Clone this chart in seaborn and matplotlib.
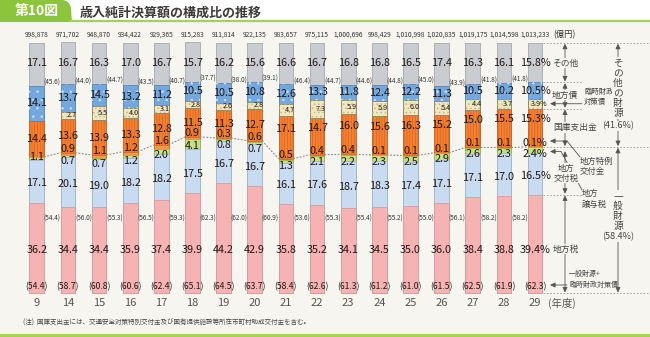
import numpy as np
import pandas as pd
import matplotlib
matplotlib.use("Agg")
import matplotlib.pyplot as plt
import seaborn as sns
from matplotlib.patches import Rectangle, Polygon

# ---------------- data ----------------
years = ['9', '14', '15', '16', '17', '18', '19', '20', '21', '22', '23', '24', '25', '26', '27', '28', '29']
totals = ['998,878', '971,702', '948,870', '934,422', '929,365', '915,283', '911,814', '922,135', '983,657',
          '975,115', '1,000,696', '998,429', '1,010,998', '1,020,835', '1,019,175', '1,014,598', '1,013,233']
local_tax = [36.2, 34.4, 34.4, 35.9, 37.4, 39.9, 44.2, 42.9, 35.8, 35.2, 34.1, 34.5, 35.0, 36.0, 38.4, 38.8, 39.4]
alloc_tax = [17.1, 20.1, 19.0, 18.2, 18.2, 17.5, 16.7, 16.7, 16.1, 17.6, 18.7, 18.3, 17.4, 17.1, 17.1, 17.0, 16.5]
transfer_tax = [1.1, 0.7, 0.7, 1.2, 2.0, 4.1, 0.8, 0.7, 1.3, 2.1, 2.2, 2.3, 2.5, 2.9, 2.6, 2.3, 2.4]
special_grant = [0.0, 0.9, 1.1, 1.2, 1.6, 0.9, 0.3, 0.6, 0.5, 0.4, 0.4, 0.1, 0.1, 0.1, 0.1, 0.1, 0.1]
treasury = [14.4, 13.6, 13.9, 13.3, 12.8, 11.5, 11.3, 12.7, 17.1, 14.7, 16.0, 15.6, 16.3, 15.2, 15.0, 15.5, 15.3]
local_bonds = [14.1, 13.7, 14.5, 13.2, 11.2, 10.5, 10.5, 10.8, 12.6, 13.3, 11.8, 12.4, 12.2, 11.3, 10.5, 10.2, 10.5]
special_bonds = [0.0, 2.7, 5.5, 4.0, 3.1, 2.8, 2.6, 2.8, 4.7, 7.3, 5.9, 5.9, 6.0, 5.4, 4.4, 3.7, 3.9]
others = [17.1, 16.7, 16.3, 17.0, 16.7, 15.7, 16.2, 15.6, 16.6, 16.7, 16.8, 16.8, 16.5, 17.4, 16.3, 16.1, 15.8]
other_sources = [45.6, 44.0, 44.7, 43.5, 40.7, 37.7, 38.0, 39.1, 46.4, 44.7, 44.6, 44.8, 45.0, 43.9, 41.8, 41.8]
general_sources = [54.4, 56.0, 55.3, 56.5, 59.3, 62.3, 62.0, 60.9, 53.6, 55.3, 55.4, 55.2, 55.0, 56.1, 58.2, 58.2]
general_plus = [54.4, 58.7, 60.8, 60.6, 62.4, 65.1, 64.5, 63.7, 58.4, 62.6, 61.3, 61.2, 61.0, 61.5, 62.5, 61.9, 62.3]
last_other_share = '41.6'
last_general_share = '58.4'

# ---------------- style ----------------
sns.set_theme(style="white")
plt.rcParams['font.family'] = ['Noto Sans CJK JP', 'DejaVu Sans']
plt.rcParams['hatch.linewidth'] = 0.5

BG = '#f6f5f0'
C_PINK, E_PINK = '#f5b3b3', '#d79a9a'
C_LB, E_LB = '#c9dbf1', '#9fb6d3'
C_GREEN, E_GREEN = '#c7df8a', '#98b85a'
C_SG, E_SG = '#f39a4a', '#c9702c'
C_OR, E_OR = '#f28234', '#c9652a'
C_BLUE, E_BLUE = '#72a8de', '#5a86b8'
C_TAN, E_TAN = '#efe6c2', '#8f8158'
C_GREY, E_GREY = '#c9cdd1', '#a5a9ad'
TXT = '#231815'

n = len(years)
idx = np.arange(n)
c1 = np.array(local_tax)
c2 = c1 + np.array(alloc_tax)
c3 = c2 + np.array(transfer_tax)
c4 = c3 + np.array(special_grant)
c5 = c4 + np.array(treasury)
c6 = c5 + np.array(local_bonds)
c7 = c6 + np.array(others)
sb = np.array(special_bonds)

fig = plt.figure(figsize=(6.5, 3.37), dpi=100)
fig.patch.set_facecolor(BG)

# pixel mapping of the main axes (bar i centre, 0%/100% levels)
X0, DX = 36.7, 31.15
PY0, PYS = 293.3, 2.506
ax = fig.add_axes([0, 0, 1, 1])
ax.set_facecolor('none')
bw = 14.7 / DX

df = pd.DataFrame({'year': years})
layers = [
    (c7, C_GREY, E_GREY),
    (c6, C_BLUE, E_BLUE),
    (c5, C_OR, E_OR),
    (c4, C_SG, E_SG),
    (c3, C_GREEN, E_GREEN),
    (c2, C_LB, E_LB),
    (c1, C_PINK, E_PINK),
]
for vals, col, ec in layers:
    sns.barplot(data=df.assign(v=vals), x='year', y='v', order=years, color=col,
                saturation=1, width=bw, edgecolor=ec, linewidth=0.6, ax=ax, zorder=2)

# textures
ax.bar(idx, treasury, bottom=c4, width=bw, color='none', edgecolor='#e0601a', linewidth=0,
       hatch='||||||', zorder=3)
ax.bar(idx, local_bonds, bottom=c5, width=bw, color='none', edgecolor='#cfe1f5', linewidth=0,
       hatch='..', zorder=3)
has_sb = sb > 0
ax.bar(idx[has_sb], sb[has_sb], bottom=c5[has_sb], width=bw, color=C_TAN, edgecolor=E_TAN,
       linewidth=0.6, zorder=4)
ax.bar(idx[has_sb], sb[has_sb], bottom=c5[has_sb], width=bw, color='none', edgecolor='#c2b27e',
       linewidth=0, hatch='....', zorder=4.5)

# dotted line linking general-revenue levels between bars
for i in range(n - 1):
    ax.plot([i + bw / 2, i + 1 - bw / 2], [c4[i], c4[i + 1]], color='#8a8a8a', lw=0.8,
            ls=(0, (1.6, 1.4)), zorder=5)

ax.set_xlim(-X0 / DX, (650 - X0) / DX)
ax.set_ylim((PY0 - 337) / PYS, PY0 / PYS)
ax.axis('off')


def lab(i, y, v, size=7.8, va='center', dx=0.0, **kw):
    s = f'{v:.1f}' + ('%' if i == n - 1 else '')
    ax.text(i + dx, y, s, ha='center', va=va, fontsize=size, color=TXT, zorder=8, **kw)


for i in range(n):
    lab(i, 92.0, others[i])
    lab(i, (c5[i] + sb[i] + c6[i]) / 2, local_bonds[i])
    if sb[i] > 0:
        lab(i, c5[i] + sb[i] / 2, sb[i], size=5.2, dx=0.12)
    lab(i, (c4[i] + c5[i]) / 2 + (3.5 if i >= 8 else 0), treasury[i])
    if special_grant[i] > 0:
        lab(i, c4[i] - 0.4, special_grant[i], va='bottom')
        lab(i, c3[i] - 0.6, transfer_tax[i], va='top')
    else:
        lab(i, c3[i], transfer_tax[i])
    lab(i, c1[i] + 0.45 * alloc_tax[i], alloc_tax[i])
    lab(i, 17.2, local_tax[i])
    ax.text(i, 2.8, f'({general_plus[i]:.1f})', ha='center', va='center', fontsize=6.2,
            color=TXT, zorder=8)
    ax.text(i, 103.3, totals[i], ha='center', va='center', fontsize=4.8, color='#333', zorder=8)
    ax.text(i, -4.0, years[i], ha='center', va='center', fontsize=8, color='#555', zorder=8)
for i in range(n - 1):
    ax.text(i + 0.5, c6[i] + 1.2, f'({other_sources[i]:.1f})', ha='center', va='center',
            fontsize=4.6, color='#333', zorder=8)
    ax.text(i + 0.5, 29.9, f'({general_sources[i]:.1f})', ha='center', va='center',
            fontsize=4.6, color='#333', zorder=8)

# ---------------- overlay in pixel coordinates ----------------
ov = fig.add_axes([0, 0, 1, 1], zorder=10)
ov.set_xlim(0, 650)
ov.set_ylim(337, 0)
ov.axis('off')
ov.set_facecolor('none')


def Y(v):
    return PY0 - PYS * v


# header
ov.add_patch(Rectangle((0, 0), 650, 21, facecolor='white', edgecolor='none', zorder=0))
tab = [(0, 22), (0, 0), (62, 0)] + [(62 + 9 * np.sin(t), 9 - 9 * np.cos(t)) for t in np.linspace(0, np.pi / 2, 8)] + [(72, 22)]
ov.add_patch(Polygon(tab, closed=True, facecolor='#8cc43c', edgecolor='none', zorder=1))
ov.plot([70, 650], [21, 21], color='#a8d055', lw=1.6, zorder=1)
ov.text(37, 11.5, '第10図', ha='center', va='center', fontsize=10, fontweight='bold', color='white')
ov.text(80, 12.5, '歳入純計決算額の構成比の推移', ha='left', va='center', fontsize=9.4,
        fontweight='bold', color='#3e3a39')
ov.add_patch(Rectangle((0, 333.5), 650, 4, facecolor='#a8d055', edgecolor='none'))

ov.text(23, 323, '(注)  国庫支出金には、交通安全対策特別交付金及び国有提供施設等所在市町村助成交付金を含む。',
        ha='left', va='center', fontsize=4.7, color='#444')
ov.text(548, 303.5, '(年度)', ha='left', va='center', fontsize=7.5, color='#555')
ov.text(553, 35, '(億円)', ha='left', va='center', fontsize=6, color='#333')

# dashed guide lines to the right of the last bar
xr = X0 + DX * (n - 1) + 7.5
dash = dict(color='#9a9a9a', lw=0.6, ls=(0, (2, 2)))
ov.plot([xr, 648], [Y(100), Y(100)], **dash)
ov.plot([xr, 582], [Y(c6[-1]), Y(c6[-1])], **dash)
ov.plot([xr, 583], [Y(c5[-1]), Y(c5[-1])], **dash)
ov.plot([xr, 648], [Y(c4[-1]), Y(c4[-1])], **dash)
ov.plot([xr, 582], [Y(c1[-1]), Y(c1[-1])], **dash)
ov.plot([xr, 648], [Y(0), Y(0)], **dash)

ARW = dict(arrowstyle='<|-|>,head_length=0.25,head_width=0.12', lw=0.6, color='#555',
           shrinkA=0, shrinkB=0)
ARW1 = dict(arrowstyle='-|>,head_length=0.25,head_width=0.12', lw=0.6, color='#555',
            shrinkA=0, shrinkB=0)
TB = dict(facecolor=BG, edgecolor='none', pad=0.6)
ANN = '#444'


def varrow(x, y0, y1):
    ov.annotate('', xy=(x, y0), xytext=(x, y1), arrowprops=ARW)


xa = 565
varrow(xa, Y(100) + 1, Y(c6[-1]) - 0.8)
varrow(xa, Y(c6[-1]) + 0.8, Y(c5[-1]) - 0.8)
varrow(xa, Y(c5[-1]) + 0.8, Y(c4[-1]) - 0.8)
varrow(xa, Y(c3[-1]) + 4, Y(c1[-1]) - 0.8)
varrow(xa, Y(c1[-1]) + 0.8, Y(0) - 0.8)
ov.text(xa, 63, 'その他', ha='center', va='center', fontsize=6.3, color=ANN, bbox=TB)
ov.text(xa, 95, '地方債', ha='center', va='center', fontsize=6.3, color=ANN, bbox=TB)
ov.text(553, 127.5, '国庫支出金', ha='left', va='center', fontsize=6.3, color=ANN, bbox=TB)
ov.text(566, 173, '地方\n交付税', ha='center', va='center', fontsize=6, color=ANN,
        linespacing=1.15, bbox=TB)
ov.text(553, 249, '地方税', ha='left', va='center', fontsize=6.3, color=ANN, bbox=TB)
ov.text(584, 97, '臨時財政\n対策債', ha='left', va='center', fontsize=5.3, color=ANN, linespacing=1.35)
ov.text(580, 166.5, '地方特例\n交付金', ha='left', va='center', fontsize=6, color=ANN, linespacing=1.2)
ov.text(582, 199, '地方\n譲与税', ha='left', va='center', fontsize=6, color=ANN, linespacing=1.2)
ov.text(569, 279.5, '一般財源+\n臨時財政対策債', ha='left', va='center', fontsize=5, color=ANN,
        linespacing=1.45)

# pointer arrows
ov.annotate('', xy=(550, Y(c5[-1] + sb[-1] / 2)), xytext=(582, Y(c5[-1] + sb[-1] / 2)), arrowprops=ARW1)
ov.plot([580, 567], [157, 141], color='#555', lw=0.6)
ov.annotate('', xy=(550, 141), xytext=(567, 141), arrowprops=ARW1)
ov.plot([582, 561], [190, 151.5], color='#555', lw=0.6)
ov.annotate('', xy=(550, 151.5), xytext=(561, 151.5), arrowprops=ARW1)
ov.annotate('', xy=(550, 285), xytext=(567, 285), arrowprops=ARW1)

# big braces on the far right
xb = 618
varrow(xb, Y(100) + 1, Y(c4[-1]) - 0.8)
varrow(xb, Y(c4[-1]) + 0.8, Y(0) - 0.8)
ov.text(xb, 88, '\n'.join('その他の財源'), ha='center', va='center', fontsize=7, color=ANN,
        linespacing=1.0, bbox=TB)
ov.text(xb, 126, f'({last_other_share}%)', ha='center', va='center', fontsize=6.5, color=ANN, bbox=TB)
ov.text(xb, 211, '\n'.join('一般財源'), ha='center', va='center', fontsize=7, color=ANN,
        linespacing=1.0, bbox=TB)
ov.text(xb, 237, f'({last_general_share}%)', ha='center', va='center', fontsize=6.5, color=ANN, bbox=TB)

fig.savefig('out.png', dpi=100, facecolor=BG)
